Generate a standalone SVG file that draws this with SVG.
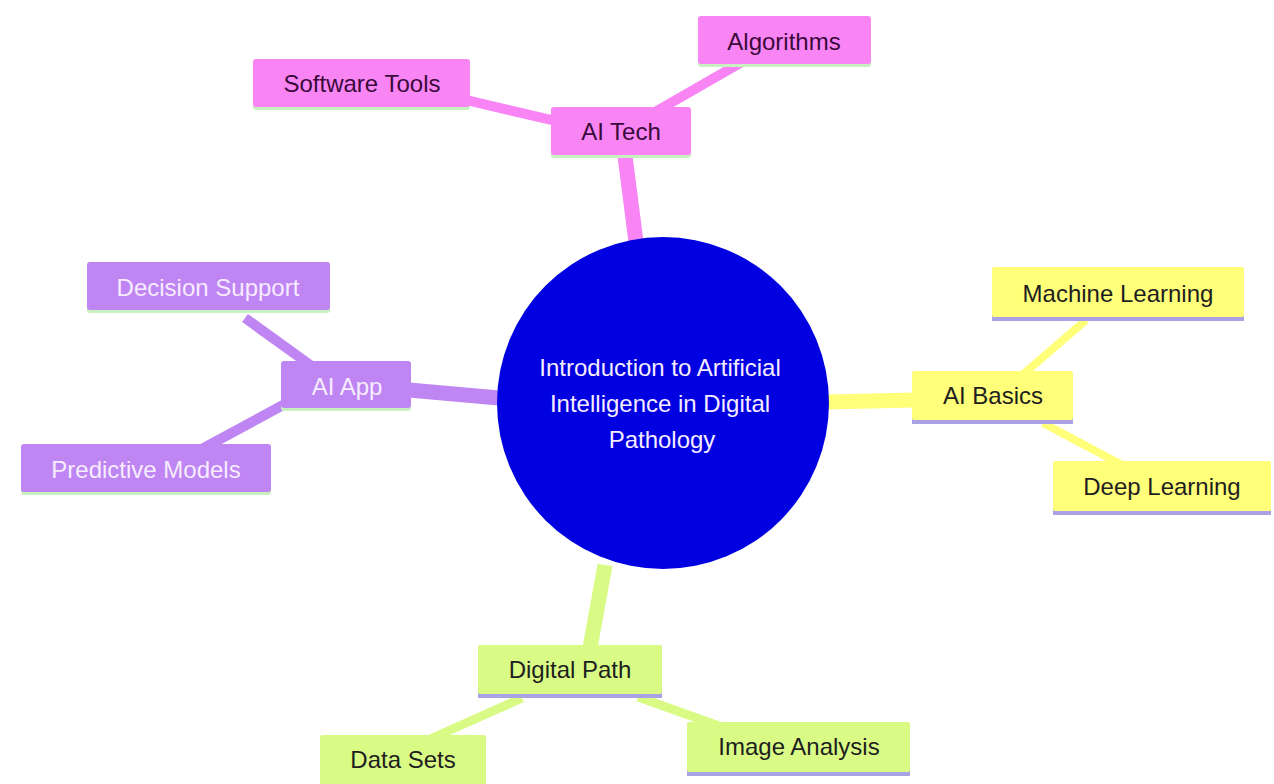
<svg xmlns="http://www.w3.org/2000/svg" width="1274" height="784" viewBox="0 0 1274 784">
<style>
text{font-family:"Liberation Sans",Arial,sans-serif;font-size:24px;text-anchor:middle;dominant-baseline:central}
.e{fill:none;stroke-linecap:butt}
.pk{fill:#f985f5}
.pu{fill:#bf85f3}
.ye{fill:#ffff7a}
.gr{fill:#d9fb85}
.tpk{fill:#3a0a3a}
.tpu{fill:#f6ecff}
.tdk{fill:#1e1e1e}
.shg{fill:#c8f0c0}
.shb{fill:#a9a3e6}
</style>
<rect width="1274" height="784" fill="#ffffff"/>
<g id="connectors">
<path class="e" d="M636 242 L625 156" stroke="#f985f5" stroke-width="15"/>
<path class="e" d="M560 122 L462 99" stroke="#f985f5" stroke-width="10"/>
<path class="e" d="M655 112 L742 62" stroke="#f985f5" stroke-width="10"/>
<path class="e" d="M499 398 L409 390" stroke="#bf85f3" stroke-width="15"/>
<path class="e" d="M320 372 L245 318" stroke="#bf85f3" stroke-width="10"/>
<path class="e" d="M285 404 L200 450" stroke="#bf85f3" stroke-width="10"/>
<path class="e" d="M827 402 L914 400" stroke="#ffff7a" stroke-width="15"/>
<path class="e" d="M1020 377 L1086 320" stroke="#ffff7a" stroke-width="8"/>
<path class="e" d="M1043 423 L1122 465" stroke="#ffff7a" stroke-width="8"/>
<path class="e" d="M605 565 L590 648" stroke="#d9fb85" stroke-width="15"/>
<path class="e" d="M522 698 L428 740" stroke="#d9fb85" stroke-width="9"/>
<path class="e" d="M638 697 L722 727" stroke="#d9fb85" stroke-width="9"/>
</g>
<g id="root">
<circle cx="663" cy="403" r="166" fill="#0000e0"/>
<text x="660" y="367" class="tpu">Introduction to Artificial</text>
<text x="660" y="403" class="tpu">Intelligence in Digital</text>
<text x="662" y="439" class="tpu">Pathology</text>
</g>
<g id="ai-tech">
<rect x="551" y="110" width="140" height="48" rx="3" class="shg"/>
<rect x="551" y="107" width="140" height="48" rx="3" class="pk"/>
<text x="621" y="131" class="tpk">AI Tech</text>
</g>
<g id="algorithms">
<rect x="698" y="19" width="173" height="48" rx="3" class="shg"/>
<rect x="698" y="16" width="173" height="48" rx="3" class="pk"/>
<text x="784" y="41" class="tpk">Algorithms</text>
</g>
<g id="software-tools">
<rect x="253" y="62" width="217" height="48" rx="3" class="shg"/>
<rect x="253" y="59" width="217" height="48" rx="3" class="pk"/>
<text x="362" y="83" class="tpk">Software Tools</text>
</g>
<g id="ai-app">
<rect x="281" y="364" width="130" height="47" rx="3" class="shg"/>
<rect x="281" y="361" width="130" height="47" rx="3" class="pu"/>
<text x="347" y="386" class="tpu">AI App</text>
</g>
<g id="decision-support">
<rect x="87" y="265" width="243" height="48" rx="3" class="shg"/>
<rect x="87" y="262" width="243" height="48" rx="3" class="pu"/>
<text x="208" y="287" class="tpu">Decision Support</text>
</g>
<g id="predictive-models">
<rect x="21" y="447" width="250" height="48" rx="3" class="shg"/>
<rect x="21" y="444" width="250" height="48" rx="3" class="pu"/>
<text x="146" y="469" class="tpu">Predictive Models</text>
</g>
<g id="ai-basics">
<rect x="912" y="372" width="161" height="52" class="shb"/>
<rect x="912" y="371" width="161" height="49" rx="2" class="ye"/>
<text x="993" y="395" class="tdk">AI Basics</text>
</g>
<g id="machine-learning">
<rect x="992" y="268" width="252" height="53" class="shb"/>
<rect x="992" y="267" width="252" height="50" rx="2" class="ye"/>
<text x="1118" y="293" class="tdk">Machine Learning</text>
</g>
<g id="deep-learning">
<rect x="1053" y="462" width="218" height="53" class="shb"/>
<rect x="1053" y="461" width="218" height="50" rx="2" class="ye"/>
<text x="1162" y="486" class="tdk">Deep Learning</text>
</g>
<g id="digital-path">
<rect x="478" y="646" width="184" height="52" class="shb"/>
<rect x="478" y="645" width="184" height="49" rx="2" class="gr"/>
<text x="570" y="669" class="tdk">Digital Path</text>
</g>
<g id="data-sets">
<rect x="320" y="735" width="166" height="50" rx="2" class="gr"/>
<text x="403" y="759" class="tdk">Data Sets</text>
</g>
<g id="image-analysis">
<rect x="687" y="723" width="223" height="53" class="shb"/>
<rect x="687" y="722" width="223" height="50" rx="2" class="gr"/>
<text x="799" y="746" class="tdk">Image Analysis</text>
</g>
</svg>
